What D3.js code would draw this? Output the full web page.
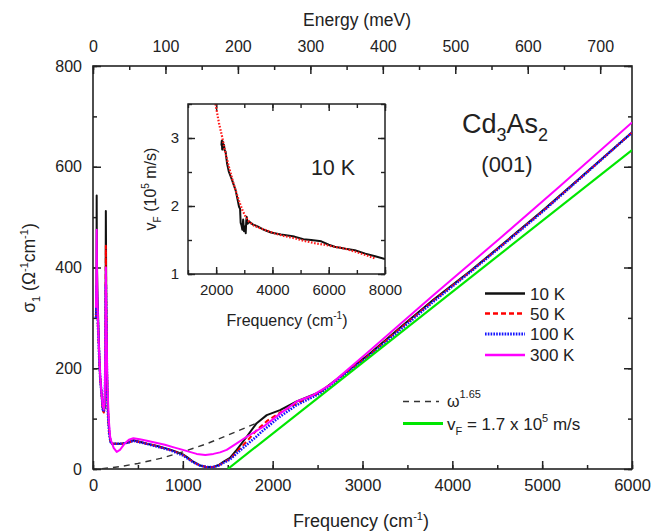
<!DOCTYPE html>
<html><head><meta charset="utf-8">
<script src="https://cdn.jsdelivr.net/npm/d3@7"></script>
<style>
body{margin:0;background:#fff;}
text{font-family:"Liberation Sans",Arial,sans-serif;fill:#222;}
</style></head>
<body><svg id="c" width="652" height="531"></svg>
<script>
// ---------- data ----------
const seriesNames = ["10 K","50 K","100 K","300 K"];
const s10K = [[33,300],[38,330],[41,543],[43,420],[50,345],[60,285],[70,225],[80,182],[90,160],[100,140],[110,118],[120,114],[130,122],[138,190],[143,512],[148,330],[155,200],[165,120],[180,75],[195,55],[210,50],[260,50],[320,50],[380,52],[450,57],[520,54],[600,50],[680,47],[746,44],[850,39],[932,34],[1000,29],[1043,24],[1120,14],[1191,7],[1260,4],[1340,4],[1400,8],[1451,14],[1525,22],[1600,38],[1711,64],[1822,91],[1934,107],[2082,117],[2267,134],[2527,153],[2800,190],[3047,224],[3400,278],[3788,336],[4200,393],[4531,442],[5000,512],[5500,590],[6000,668]];
const s50K = [[33,300],[38,312],[41,335],[44,320],[50,300],[60,262],[70,215],[80,180],[90,158],[100,138],[110,116],[120,112],[130,120],[138,200],[143,443],[148,320],[155,200],[165,118],[180,72],[195,54],[210,50],[260,50],[320,50],[380,52],[450,56],[520,53],[600,50],[680,47],[746,43],[850,38],[932,33],[1000,28],[1043,23],[1120,13],[1191,7],[1260,4],[1340,4],[1400,7],[1451,13],[1525,20],[1600,34],[1711,55],[1822,77],[1934,95],[2082,112],[2267,130],[2527,152],[2800,189],[3047,222],[3400,276],[3788,334],[4200,392],[4531,441],[5000,511],[5500,589],[6000,668]];
const s100K = [[33,300],[38,320],[41,365],[44,340],[50,310],[60,265],[70,218],[80,182],[90,160],[100,140],[110,118],[120,114],[130,125],[138,210],[143,365],[148,300],[155,190],[165,115],[180,70],[195,54],[210,50],[260,50],[320,50],[380,52],[450,56],[520,53],[600,50],[680,46],[746,43],[850,38],[932,32],[1000,27],[1043,22],[1120,13],[1191,7],[1260,4],[1340,4],[1400,7],[1451,12],[1525,19],[1600,31],[1711,48],[1822,65],[1896,77],[2082,104],[2267,127],[2527,150],[2800,187],[3047,220],[3400,273],[3788,332],[4200,391],[4531,440],[5000,510],[5500,589],[6000,668]];
const s300K = [[33,320],[38,380],[41,475],[44,400],[50,330],[60,270],[70,225],[80,185],[90,160],[100,140],[110,125],[120,118],[130,132],[138,230],[143,400],[148,300],[160,170],[175,100],[190,65],[200,57],[230,42],[264,34],[300,38],[350,50],[400,58],[449,61],[520,59],[600,56],[700,52],[800,48],[900,43],[1000,38],[1154,30],[1250,28],[1340,30],[1414,33],[1488,38],[1600,51],[1711,64],[1896,84],[2082,110],[2267,134],[2453,147],[2638,167],[3047,230],[3788,345],[4531,458],[5200,562],[6000,688]];
const powerLaw = [[100,0.8],[300,4.6],[500,11],[750,21],[1000,34],[1250,49],[1500,67],[1700,82],[1830,92]];
const vFLine = [[1500,0],[6000,633]];
// inset: vF (10^5 m/s) vs frequency
const insetBlack = [[2187,2.89],[2200,2.96],[2215,2.83],[2235,2.95],[2250,2.86],[2280,2.9],[2300,2.82],[2335,2.80],[2390,2.62],[2454,2.50],[2550,2.40],[2693,2.23],[2760,2.10],[2813,1.99],[2850,1.96],[2872,1.75],[2900,1.72],[2932,1.65],[2960,1.80],[2990,1.63],[3020,1.70],[3051,1.60],[3070,1.78],[3087,1.84],[3120,1.74],[3170,1.77],[3300,1.73],[3470,1.70],[3700,1.65],[3946,1.61],[4300,1.58],[4780,1.55],[5100,1.51],[5377,1.50],[5735,1.48],[6000,1.43],[6211,1.40],[6600,1.37],[6927,1.35],[7300,1.30],[7650,1.26],[8000,1.22]];
const insetRed = [[1977,3.5],[2100,3.22],[2217,3.01],[2330,2.78],[2454,2.575],[2570,2.40],[2693,2.23],[2810,2.08],[2932,1.94],[3050,1.84],[3170,1.77],[3350,1.71],[3588,1.67],[4064,1.60],[4400,1.56],[4780,1.527],[5100,1.49],[5495,1.454],[5850,1.43],[6211,1.40],[6600,1.37],[6927,1.33],[7300,1.28],[7643,1.23]];
const xTicksMain = [0,1000,2000,3000,4000,5000,6000];
const yTicksMain = [0,200,400,600,800];
const eTicks = [0,100,200,300,400,500,600,700];
const insetXTicks = [2000,4000,6000,8000];
const insetYTicks = [1,2,3];

// ---------- layout ----------
const svg = d3.select("#c");
const L=93,R=632,T=66,B=469;
const x = d3.scaleLinear().domain([0,6000]).range([L,R]);
const y = d3.scaleLinear().domain([0,800]).range([B,T]);
const meVtoCm = 8.06554;
const xe = d3.scaleLinear().domain([0,6000/meVtoCm]).range([L,R]);
const ax = "#222";

function minorRange(a,b,step){const r=[];for(let v=a;v<=b+1e-9;v+=step)r.push(+v.toFixed(6));return r;}

// main axes
function styleAxis(g){g.select(".domain").remove();g.selectAll("line").attr("stroke",ax).attr("stroke-width",1.5);g.selectAll("text").style("font-size","16px").attr("fill","#222");}
svg.append("g").attr("transform",`translate(0,${B})`).call(d3.axisBottom(x).tickValues(minorRange(0,6000,500)).tickSize(-4).tickFormat("")).call(styleAxis);
svg.append("g").attr("transform",`translate(0,${B})`).call(d3.axisBottom(x).tickValues(xTicksMain).tickSize(-8).tickFormat(d3.format("d"))).call(styleAxis).selectAll("text").attr("y",22).attr("dy",0).style("font-size","16.5px");
svg.append("g").attr("transform",`translate(0,${T})`).call(d3.axisTop(xe).tickValues(minorRange(0,740,50)).tickSize(-4).tickFormat("")).call(styleAxis);
svg.append("g").attr("transform",`translate(0,${T})`).call(d3.axisTop(xe).tickValues(eTicks).tickSize(-8).tickFormat(d3.format("d"))).call(styleAxis).selectAll("text").attr("y",-14).attr("dy",0);
svg.append("g").attr("transform",`translate(${L},0)`).call(d3.axisLeft(y).tickValues(minorRange(0,800,100)).tickSize(-4).tickFormat("")).call(styleAxis);
svg.append("g").attr("transform",`translate(${L},0)`).call(d3.axisLeft(y).tickValues(yTicksMain).tickSize(-8).tickFormat(d3.format("d"))).call(styleAxis).selectAll("text").attr("x",-11);
svg.append("g").attr("transform",`translate(${R},0)`).call(d3.axisRight(y).tickValues(minorRange(0,800,100)).tickSize(-4).tickFormat("")).call(styleAxis);
svg.append("g").attr("transform",`translate(${R},0)`).call(d3.axisRight(y).tickValues(yTicksMain).tickSize(-8).tickFormat("")).call(styleAxis);
svg.append("rect").attr("x",L).attr("y",T).attr("width",R-L).attr("height",B-T).attr("fill","none").attr("stroke",ax).attr("stroke-width",1.6);

// clip
svg.append("clipPath").attr("id","mc").append("rect").attr("x",L).attr("y",T).attr("width",R-L).attr("height",B-T);
const plot = svg.append("g").attr("clip-path","url(#mc)");
const line = d3.line().x(d=>x(d[0])).y(d=>y(d[1]));
const styles = [
 {data:s10K,color:"#111",w:2,dash:null},
 {data:s50K,color:"#ff0000",w:2,dash:"5,3"},
 {data:s100K,color:"#1515ff",w:2.6,dash:"1.6,1.2"},
 {data:s300K,color:"#ff00ff",w:2,dash:null}
];
styles.forEach(s=>{plot.append("path").datum(s.data).attr("d",line).attr("fill","none").attr("stroke",s.color).attr("stroke-width",s.w).attr("stroke-dasharray",s.dash).attr("stroke-linejoin","round");});
plot.append("path").datum(powerLaw).attr("d",line).attr("fill","none").attr("stroke","#333").attr("stroke-width",1.4).attr("stroke-dasharray","6,5");
plot.append("path").datum(vFLine).attr("d",line).attr("fill","none").attr("stroke","#00e600").attr("stroke-width",2.2);

// axis titles
svg.append("text").attr("x",357).attr("y",26).attr("text-anchor","middle").style("font-size","17.5px").text("Energy (meV)");
const xt = svg.append("text").attr("x",361).attr("y",527).attr("text-anchor","middle").style("font-size","18px");
xt.append("tspan").text("Frequency (cm");
xt.append("tspan").attr("dy",-7).style("font-size","11px").text("-1");
xt.append("tspan").attr("dy",7).text(")");
const yt = svg.append("text").attr("transform","translate(35,268) rotate(-90)").attr("text-anchor","middle").style("font-size","17.5px");
yt.append("tspan").text("σ");
yt.append("tspan").attr("dy",5).style("font-size","11px").text("1");
yt.append("tspan").attr("dy",-5).text(" (Ω");
yt.append("tspan").attr("dy",-7).style("font-size","11px").text("-1");
yt.append("tspan").attr("dy",7).text("cm");
yt.append("tspan").attr("dy",-7).style("font-size","11px").text("-1");
yt.append("tspan").attr("dy",7).text(")");

// sample label
const cd = svg.append("text").attr("x",505).attr("y",133).attr("text-anchor","middle").style("font-size","27px");
cd.append("tspan").text("Cd");
cd.append("tspan").attr("dy",8).style("font-size","18px").text("3");
cd.append("tspan").attr("dy",-8).text("As");
cd.append("tspan").attr("dy",8).style("font-size","18px").text("2");
svg.append("text").attr("x",507).attr("y",172).attr("text-anchor","middle").style("font-size","22px").text("(001)");

// legend
const lg = svg.append("g");
const rowsY=[293.5,313.5,334,355];
styles.forEach((s,i)=>{
 lg.append("line").attr("x1",485).attr("x2",525).attr("y1",rowsY[i]).attr("y2",rowsY[i]).attr("stroke",s.color).attr("stroke-width",s.w+0.6).attr("stroke-dasharray",s.dash);
 lg.append("text").attr("x",530).attr("y",rowsY[i]+6).style("font-size","17px").text(seriesNames[i]);
});
lg.append("line").attr("x1",403).attr("x2",439).attr("y1",401.5).attr("y2",401.5).attr("stroke","#333").attr("stroke-width",1.4).attr("stroke-dasharray","6,5");
const om = lg.append("text").attr("x",447).attr("y",407).style("font-size","16px");
om.append("tspan").text("ω");
om.append("tspan").attr("dy",-9).style("font-size","11px").text("1.65");
lg.append("line").attr("x1",403).attr("x2",443).attr("y1",423.5).attr("y2",423.5).attr("stroke","#00e600").attr("stroke-width",3);
const vf = lg.append("text").attr("x",447).attr("y",429.5).style("font-size","17px");
vf.append("tspan").text("v");
vf.append("tspan").attr("dy",5).style("font-size","11px").text("F");
vf.append("tspan").attr("dy",-5).text(" = 1.7 x 10");
vf.append("tspan").attr("dy",-8).style("font-size","11px").text("5");
vf.append("tspan").attr("dy",8).text(" m/s");

// ---------- inset ----------
const IL=188,IR=385,IT=104,IB=274;
const xi = d3.scaleLinear().domain([1000,8000]).range([IL,IR]);
const yi = d3.scaleLinear().domain([1,3.5]).range([IB,IT]);
svg.append("rect").attr("x",IL).attr("y",IT).attr("width",IR-IL).attr("height",IB-IT).attr("fill","#fff");
function styleI(g){g.select(".domain").remove();g.selectAll("line").attr("stroke",ax).attr("stroke-width",1.4);g.selectAll("text").style("font-size","15px").attr("fill","#222");}
svg.append("g").attr("transform",`translate(0,${IB})`).call(d3.axisBottom(xi).tickValues(minorRange(1000,8000,1000)).tickSize(-4).tickFormat("")).call(styleI);
svg.append("g").attr("transform",`translate(0,${IB})`).call(d3.axisBottom(xi).tickValues(insetXTicks).tickSize(-7).tickFormat(d3.format("d"))).call(styleI).selectAll("text").attr("y",21).attr("dy",0);
svg.append("g").attr("transform",`translate(0,${IT})`).call(d3.axisTop(xi).tickValues(minorRange(1000,8000,1000)).tickSize(-4).tickFormat("")).call(styleI);
svg.append("g").attr("transform",`translate(0,${IT})`).call(d3.axisTop(xi).tickValues(insetXTicks).tickSize(-7).tickFormat("")).call(styleI);
svg.append("g").attr("transform",`translate(${IL},0)`).call(d3.axisLeft(yi).tickValues(minorRange(1,3.5,0.5)).tickSize(-4).tickFormat("")).call(styleI);
svg.append("g").attr("transform",`translate(${IL},0)`).call(d3.axisLeft(yi).tickValues(insetYTicks).tickSize(-7).tickFormat(d3.format("d"))).call(styleI).selectAll("text").attr("x",-9);
svg.append("g").attr("transform",`translate(${IR},0)`).call(d3.axisRight(yi).tickValues(minorRange(1,3.5,0.5)).tickSize(-4).tickFormat("")).call(styleI);
svg.append("g").attr("transform",`translate(${IR},0)`).call(d3.axisRight(yi).tickValues(insetYTicks).tickSize(-7).tickFormat("")).call(styleI);
svg.append("clipPath").attr("id","ic").append("rect").attr("x",IL).attr("y",IT).attr("width",IR-IL).attr("height",IB-IT);
const ip = svg.append("g").attr("clip-path","url(#ic)");
const iline = d3.line().x(d=>xi(d[0])).y(d=>yi(d[1]));
ip.append("path").datum(insetBlack).attr("d",iline).attr("fill","none").attr("stroke","#111").attr("stroke-width",2).attr("stroke-linejoin","round");
ip.append("path").datum(insetRed).attr("d",iline).attr("fill","none").attr("stroke","#ff1a1a").attr("stroke-width",2.2).attr("stroke-dasharray","1.6,1.6");
svg.append("rect").attr("x",IL).attr("y",IT).attr("width",IR-IL).attr("height",IB-IT).attr("fill","none").attr("stroke",ax).attr("stroke-width",1.5);
svg.append("text").attr("x",333).attr("y",174.5).attr("text-anchor","middle").style("font-size","21.5px").text("10 K");
const ixt = svg.append("text").attr("x",287).attr("y",326).attr("text-anchor","middle").style("font-size","16px");
ixt.append("tspan").text("Frequency (cm");
ixt.append("tspan").attr("dy",-7).style("font-size","10px").text("-1");
ixt.append("tspan").attr("dy",7).text(")");
const iyt = svg.append("text").attr("transform","translate(156,189) rotate(-90)").attr("text-anchor","middle").style("font-size","16px");
iyt.append("tspan").text("v");
iyt.append("tspan").attr("dy",5).style("font-size","10px").text("F");
iyt.append("tspan").attr("dy",-5).text(" (10");
iyt.append("tspan").attr("dy",-7).style("font-size","10px").text("5");
iyt.append("tspan").attr("dy",7).text(" m/s)");
</script></body></html>
